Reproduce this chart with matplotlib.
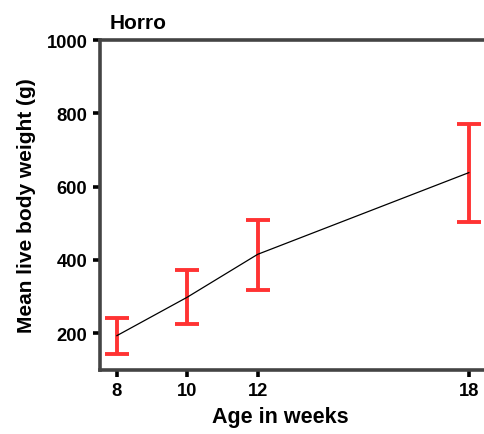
import numpy as np
import matplotlib.pyplot as plt

plt.rcParams['font.family'] = ['Liberation Sans', 'DejaVu Sans']

# data
weeks = [8, 10, 12, 18]
mean_weight = [193, 298, 415, 638]
lower = [142, 225, 318, 503]
upper = [241, 372, 509, 771]

mean_weight = np.array(mean_weight)
err = [mean_weight - np.array(lower), np.array(upper) - mean_weight]

fig = plt.figure(figsize=(4.84, 4.35), dpi=100)
ax = fig.add_axes([0.2066, 0.1478, 0.7934, 0.7579])

ax.plot(weeks, mean_weight, color='black', lw=0.9, zorder=3)
ax.errorbar(weeks, mean_weight, yerr=err, fmt='none', ecolor='#ff3333',
            elinewidth=2.8, capsize=8.5, capthick=2.8, zorder=2)

ax.set_xlim(7.52, 18.43)
ax.set_ylim(100, 1000)
ax.set_xticks(weeks)
ax.set_yticks([200, 400, 600, 800, 1000])

for s in ['left', 'bottom', 'top']:
    ax.spines[s].set_color('#444444')
    ax.spines[s].set_linewidth(2.6)
ax.spines['right'].set_visible(False)

ax.tick_params(axis='both', length=5, width=2.6, color='black',
               labelsize=13.2, pad=4)
for lbl in ax.get_xticklabels() + ax.get_yticklabels():
    lbl.set_fontweight('bold')

ax.set_xlabel('Age in weeks', fontsize=15.5, fontweight='bold', labelpad=4)
ax.xaxis.set_label_coords(0.47, -0.11)
ax.set_ylabel('Mean live body weight (g)', fontsize=15, fontweight='bold', labelpad=8)
ax.set_title('Horro', fontsize=15, fontweight='bold', loc='left', x=0.025, pad=9)

plt.savefig('out.png', dpi=100)
